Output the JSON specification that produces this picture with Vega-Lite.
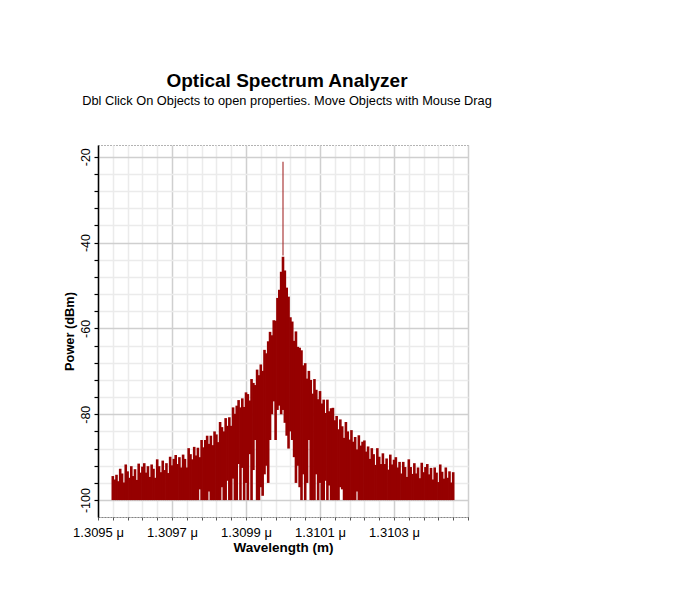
{
  "$schema": "https://vega.github.io/schema/vega-lite/v6.json",
  "width": 370,
  "height": 372,
  "autosize": {"type": "none"},
  "padding": {"left": 98, "top": 145, "right": 228, "bottom": 92},
  "background": "white",
  "config": {"view": {"stroke": "#666", "strokeDash": [1, 2], "strokeWidth": 1}},
  "title": {
    "text": "Optical Spectrum Analyzer",
    "subtitle": "Dbl Click On Objects to open properties.  Move Objects with Mouse Drag",
    "font": "Liberation Sans", "fontSize": 19, "fontWeight": "bold", "color": "#000",
    "subtitleFont": "Liberation Sans", "subtitleFontSize": 12.8, "subtitleColor": "#000",
    "anchor": "middle", "offset": 36, "subtitlePadding": 4, "dx": 4, "dy": -1
  },
  "datasets": {
    "spectrum": [
      {"w":1.30954,"hi":-94.4,"lo":-100},{"w":1.309545,"hi":-95.2,"lo":-100},{"w":1.30955,"hi":-94.1,"lo":-100},{"w":1.309555,"hi":-95.6,"lo":-100},
      {"w":1.30956,"hi":-92.7,"lo":-100},{"w":1.309565,"hi":-93.8,"lo":-100},{"w":1.30957,"hi":-95.9,"lo":-100},{"w":1.309575,"hi":-91.7,"lo":-100},
      {"w":1.30958,"hi":-93.3,"lo":-100},{"w":1.309585,"hi":-94.8,"lo":-100},{"w":1.30959,"hi":-92.1,"lo":-100},{"w":1.309595,"hi":-94.4,"lo":-100},
      {"w":1.3096,"hi":-92.8,"lo":-100},{"w":1.309605,"hi":-95.3,"lo":-100},{"w":1.30961,"hi":-91.5,"lo":-100},{"w":1.309615,"hi":-93.6,"lo":-100},
      {"w":1.30962,"hi":-92.2,"lo":-100},{"w":1.309625,"hi":-91.4,"lo":-100},{"w":1.30963,"hi":-93.6,"lo":-100},{"w":1.309635,"hi":-92.1,"lo":-100},
      {"w":1.30964,"hi":-94.6,"lo":-100},{"w":1.309645,"hi":-91.7,"lo":-100},{"w":1.30965,"hi":-92.7,"lo":-100},{"w":1.309655,"hi":-94.8,"lo":-100},
      {"w":1.30966,"hi":-90.5,"lo":-100},{"w":1.309665,"hi":-92.1,"lo":-100},{"w":1.30967,"hi":-93.5,"lo":-100},{"w":1.309675,"hi":-90.8,"lo":-100},
      {"w":1.30968,"hi":-93.0,"lo":-100},{"w":1.309685,"hi":-91.4,"lo":-100},{"w":1.30969,"hi":-93.7,"lo":-100},{"w":1.309695,"hi":-89.9,"lo":-100},
      {"w":1.3097,"hi":-91.9,"lo":-100},{"w":1.309705,"hi":-90.4,"lo":-100},{"w":1.30971,"hi":-89.5,"lo":-100},{"w":1.309715,"hi":-91.6,"lo":-100},
      {"w":1.30972,"hi":-90.0,"lo":-100},{"w":1.309725,"hi":-92.4,"lo":-100},{"w":1.30973,"hi":-89.4,"lo":-100},{"w":1.309735,"hi":-90.4,"lo":-100},
      {"w":1.30974,"hi":-92.4,"lo":-100},{"w":1.309745,"hi":-87.9,"lo":-100},{"w":1.30975,"hi":-89.3,"lo":-100},{"w":1.309755,"hi":-90.5,"lo":-100},
      {"w":1.30976,"hi":-87.6,"lo":-100},{"w":1.309765,"hi":-89.6,"lo":-100},{"w":1.30977,"hi":-87.8,"lo":-100},{"w":1.309775,"hi":-90.0,"lo":-97.5},
      {"w":1.30978,"hi":-86.0,"lo":-100},{"w":1.309785,"hi":-87.7,"lo":-100},{"w":1.30979,"hi":-86.0,"lo":-100},{"w":1.309795,"hi":-85.0,"lo":-100},
      {"w":1.3098,"hi":-86.9,"lo":-98},{"w":1.309805,"hi":-85.0,"lo":-100},{"w":1.30981,"hi":-87.2,"lo":-100},{"w":1.309815,"hi":-84.0,"lo":-100},
      {"w":1.30982,"hi":-84.7,"lo":-100},{"w":1.309825,"hi":-86.5,"lo":-100},{"w":1.30983,"hi":-81.8,"lo":-100},{"w":1.309835,"hi":-83.0,"lo":-97},
      {"w":1.30984,"hi":-84.0,"lo":-100},{"w":1.309845,"hi":-80.9,"lo":-100},{"w":1.30985,"hi":-82.7,"lo":-95.5},{"w":1.309855,"hi":-80.7,"lo":-100},
      {"w":1.30986,"hi":-82.7,"lo":-100},{"w":1.309865,"hi":-78.4,"lo":-95},{"w":1.30987,"hi":-79.9,"lo":-100},{"w":1.309875,"hi":-78.0,"lo":-100},
      {"w":1.30988,"hi":-76.7,"lo":-91.6},{"w":1.309885,"hi":-78.4,"lo":-100},{"w":1.30989,"hi":-76.3,"lo":-92.5},{"w":1.309895,"hi":-78.3,"lo":-100},
      {"w":1.3099,"hi":-74.9,"lo":-96},{"w":1.309905,"hi":-75.3,"lo":-100},{"w":1.30991,"hi":-76.8,"lo":-89.3},{"w":1.309915,"hi":-71.8,"lo":-100},
      {"w":1.30992,"hi":-72.7,"lo":-93},{"w":1.309925,"hi":-73.2,"lo":-86},{"w":1.30993,"hi":-69.6,"lo":-100},{"w":1.309935,"hi":-70.9,"lo":-100},
      {"w":1.30994,"hi":-68.4,"lo":-97},{"w":1.309945,"hi":-69.9,"lo":-99},{"w":1.30995,"hi":-65.0,"lo":-94},{"w":1.309955,"hi":-65.8,"lo":-92},
      {"w":1.30996,"hi":-63.0,"lo":-96},{"w":1.309965,"hi":-60.8,"lo":-86},{"w":1.30997,"hi":-61.6,"lo":-80},{"w":1.309975,"hi":-58.1,"lo":-77},
      {"w":1.30998,"hi":-58.2,"lo":-86},{"w":1.309985,"hi":-52.9,"lo":-79},{"w":1.30999,"hi":-51.0,"lo":-78},{"w":1.309995,"hi":-46.8,"lo":-80},
      {"w":1.31,"hi":-43.3,"lo":-79},
      {"w":1.310005,"hi":-46.5,"lo":-82},{"w":1.31001,"hi":-50.5,"lo":-85},{"w":1.310015,"hi":-52.6,"lo":-88},{"w":1.31002,"hi":-57.4,"lo":-84},
      {"w":1.310025,"hi":-58.4,"lo":-86},{"w":1.31003,"hi":-62.9,"lo":-90},{"w":1.310035,"hi":-60.7,"lo":-96},{"w":1.31004,"hi":-64.3,"lo":-92},
      {"w":1.310045,"hi":-64.5,"lo":-97},{"w":1.31005,"hi":-65.1,"lo":-100},{"w":1.310055,"hi":-68.6,"lo":-94},{"w":1.31006,"hi":-68.1,"lo":-100},
      {"w":1.310065,"hi":-71.7,"lo":-96},{"w":1.31007,"hi":-69.9,"lo":-86},{"w":1.310075,"hi":-72.0,"lo":-100},{"w":1.31008,"hi":-75.2,"lo":-100},
      {"w":1.310085,"hi":-71.8,"lo":-100},{"w":1.31009,"hi":-74.3,"lo":-94},{"w":1.310095,"hi":-76.5,"lo":-100},{"w":1.3101,"hi":-74.6,"lo":-96},
      {"w":1.310105,"hi":-77.5,"lo":-100},{"w":1.31011,"hi":-76.6,"lo":-100},{"w":1.310115,"hi":-79.7,"lo":-95.5},{"w":1.31012,"hi":-76.6,"lo":-100},
      {"w":1.310125,"hi":-79.3,"lo":-96.6},{"w":1.31013,"hi":-78.6,"lo":-100},{"w":1.310135,"hi":-78.5,"lo":-100},{"w":1.31014,"hi":-81.4,"lo":-100},
      {"w":1.310145,"hi":-80.4,"lo":-100},{"w":1.31015,"hi":-83.5,"lo":-100},{"w":1.310155,"hi":-81.2,"lo":-97},{"w":1.31016,"hi":-82.8,"lo":-97.5},
      {"w":1.310165,"hi":-85.5,"lo":-100},{"w":1.31017,"hi":-81.8,"lo":-100},{"w":1.310175,"hi":-84.0,"lo":-100},{"w":1.31018,"hi":-85.9,"lo":-100},
      {"w":1.310185,"hi":-83.7,"lo":-100},{"w":1.31019,"hi":-86.4,"lo":-100},{"w":1.310195,"hi":-85.3,"lo":-100},{"w":1.3102,"hi":-88.2,"lo":-98},
      {"w":1.310205,"hi":-84.9,"lo":-100},{"w":1.31021,"hi":-87.3,"lo":-100},{"w":1.310215,"hi":-86.4,"lo":-100},{"w":1.31022,"hi":-86.1,"lo":-100},
      {"w":1.310225,"hi":-88.7,"lo":-100},{"w":1.31023,"hi":-87.5,"lo":-100},{"w":1.310235,"hi":-90.4,"lo":-100},{"w":1.31024,"hi":-87.9,"lo":-100},
      {"w":1.310245,"hi":-89.3,"lo":-100},{"w":1.31025,"hi":-91.8,"lo":-100},{"w":1.310255,"hi":-87.9,"lo":-100},{"w":1.31026,"hi":-89.9,"lo":-100},
      {"w":1.310265,"hi":-91.6,"lo":-100},{"w":1.31027,"hi":-89.1,"lo":-100},{"w":1.310275,"hi":-91.6,"lo":-100},{"w":1.31028,"hi":-90.3,"lo":-100},
      {"w":1.310285,"hi":-92.9,"lo":-100},{"w":1.31029,"hi":-89.4,"lo":-100},{"w":1.310295,"hi":-91.7,"lo":-100},{"w":1.3103,"hi":-90.6,"lo":-100},
      {"w":1.310305,"hi":-90.0,"lo":-100},{"w":1.31031,"hi":-92.4,"lo":-100},{"w":1.310315,"hi":-91.1,"lo":-100},{"w":1.31032,"hi":-93.8,"lo":-100},
      {"w":1.310325,"hi":-91.1,"lo":-100},{"w":1.31033,"hi":-92.3,"lo":-100},{"w":1.310335,"hi":-94.6,"lo":-100},{"w":1.31034,"hi":-90.5,"lo":-100},
      {"w":1.310345,"hi":-92.3,"lo":-100},{"w":1.31035,"hi":-93.9,"lo":-100},{"w":1.310355,"hi":-91.4,"lo":-100},{"w":1.31036,"hi":-93.8,"lo":-100},
      {"w":1.310365,"hi":-92.4,"lo":-100},{"w":1.31037,"hi":-94.9,"lo":-100},{"w":1.310375,"hi":-91.3,"lo":-100},{"w":1.31038,"hi":-93.5,"lo":-100},
      {"w":1.310385,"hi":-92.3,"lo":-100},{"w":1.31039,"hi":-91.6,"lo":-100},{"w":1.310395,"hi":-94.0,"lo":-100},{"w":1.3104,"hi":-92.5,"lo":-100},
      {"w":1.310405,"hi":-95.2,"lo":-100},{"w":1.31041,"hi":-92.4,"lo":-100},{"w":1.310415,"hi":-93.6,"lo":-100},{"w":1.31042,"hi":-95.8,"lo":-100},
      {"w":1.310425,"hi":-91.7,"lo":-100},{"w":1.31043,"hi":-93.4,"lo":-100},{"w":1.310435,"hi":-95.0,"lo":-100},{"w":1.31044,"hi":-92.4,"lo":-100},
      {"w":1.310445,"hi":-94.8,"lo":-100},{"w":1.31045,"hi":-93.3,"lo":-100},{"w":1.310455,"hi":-95.9,"lo":-100},{"w":1.31046,"hi":-93.5,"lo":-100}
    ],
    "spike": [{"w":1.31,"hi":-21.2,"lo":-43}]
  },
  "encoding": {
    "x": {
      "field": "w", "type": "quantitative",
      "scale": {"domain": [1.3095, 1.3105], "nice": false, "zero": false},
      "axis": {
        "values": [1.3095,1.30954,1.30958,1.30962,1.30966,1.3097,1.30974,1.30978,1.30982,1.30986,1.3099,1.30994,1.30998,1.31002,1.31006,1.3101,1.31014,1.31018,1.31022,1.31026,1.3103,1.31034,1.31038,1.31042,1.31046,1.3105],
        "title": "Wavelength (m)",
        "titleFont": "Liberation Sans", "titleFontSize": 13.5, "titleFontWeight": "bold", "titleColor": "#000", "titlePadding": 1,
        "labelFont": "Liberation Sans", "labelFontSize": 13, "labelColor": "#000", "labelPadding": 6,
        "labelExpr": "(round((datum.value-1.3095)/0.00004) % 5 == 0 && datum.value < 1.3104) ? format(datum.value, '.4f') + ' μ' : ''",
        "labelOverlap": false, "labelFlush": false, "labelBound": false,
        "grid": true,
        "gridColor": {"condition": {"test": "round((datum.value-1.3095)/0.00004) % 5 == 0", "value": "#cfcfcf"}, "value": "#ebebeb"},
        "gridWidth": 1.5,
        "domainColor": "#555", "domainDash": [1, 2], "tickColor": "#555", "tickSize": 3
      }
    },
    "y": {
      "field": "hi", "type": "quantitative",
      "scale": {"domain": [-103.94, -17.2693], "nice": false, "zero": false},
      "axis": {
        "values": [-100,-96,-92,-88,-84,-80,-76,-72,-68,-64,-60,-56,-52,-48,-44,-40,-36,-32,-28,-24,-20],
        "title": "Power (dBm)",
        "titleFont": "Liberation Sans", "titleFontSize": 12.8, "titleFontWeight": "bold", "titleColor": "#000", "titlePadding": 3,
        "labelFont": "Liberation Sans", "labelFontSize": 12.5, "labelColor": "#000", "labelPadding": 1.5,
        "labelAngle": -90, "labelAlign": "center", "labelBaseline": "bottom",
        "labelExpr": "datum.value % 20 == 0 ? '' + datum.value : ''",
        "labelOverlap": false, "labelFlush": false, "labelBound": false,
        "grid": true,
        "gridColor": {"condition": {"test": "datum.value % 20 == 0", "value": "#cfcfcf"}, "value": "#ebebeb"},
        "gridWidth": 1.5,
        "domainColor": "#000", "domainWidth": 1.5, "tickColor": "#000", "tickSize": 4, "tickWidth": 1.2
      }
    },
    "y2": {"field": "lo"}
  },
  "layer": [
    {"data": {"name": "spectrum"}, "mark": {"type": "rule", "color": "#960000", "strokeWidth": 2.6}},
    {"data": {"name": "spike"}, "mark": {"type": "rule", "color": "#a52a2a", "strokeWidth": 1.3, "opacity": 0.85}}
  ]
}
